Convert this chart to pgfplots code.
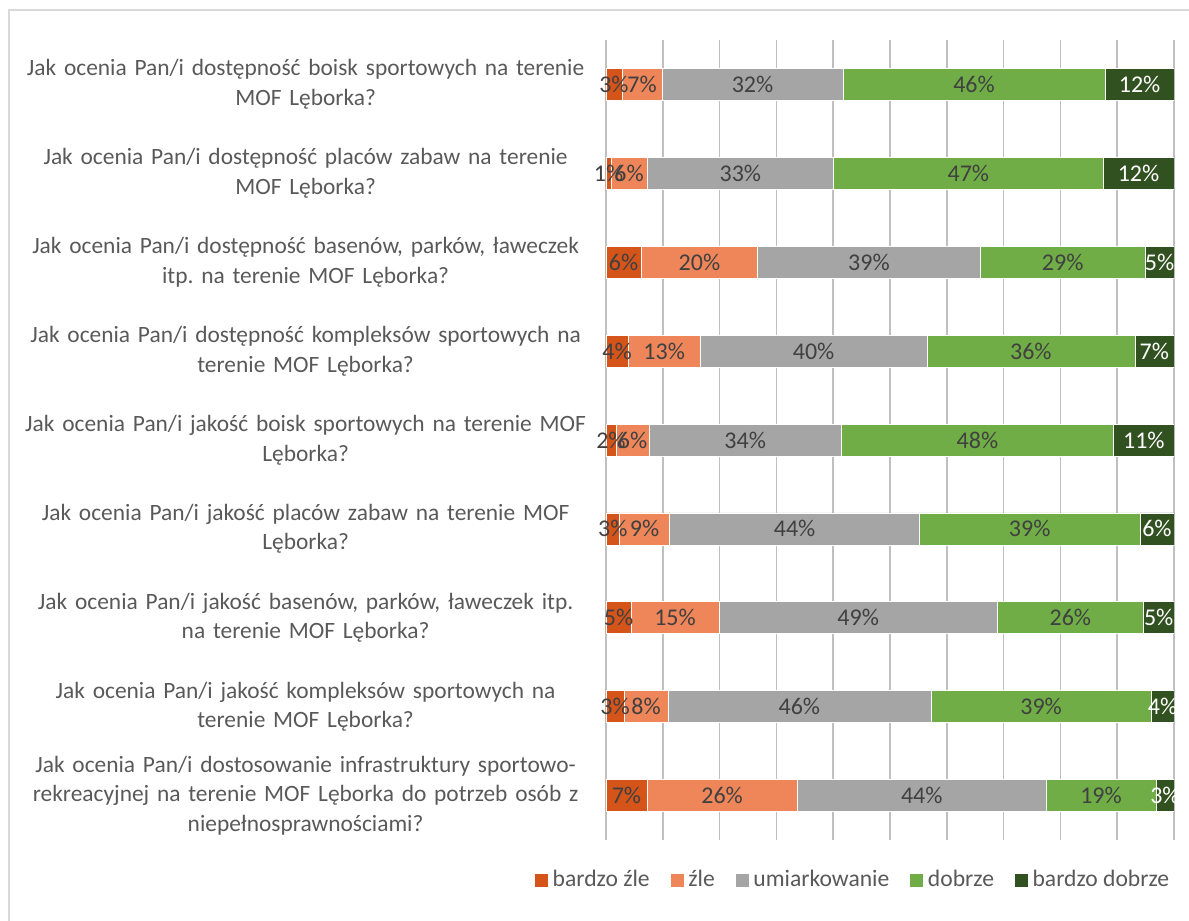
\documentclass[border=0pt]{standalone}
\usepackage{pgfplots}
\pgfplotsset{compat=1.18}
\usepackage{pgfplotstable}
\usepackage{fontspec}
\setmainfont{Carlito}
\frenchspacing
\definecolor{c1}{HTML}{D4541A}
\definecolor{c2}{HTML}{EE8659}
\definecolor{c3}{HTML}{A5A5A5}
\definecolor{c4}{HTML}{70AD47}
\definecolor{c5}{HTML}{325120}
\definecolor{txt}{HTML}{595959}
\definecolor{lbl}{HTML}{404040}
\definecolor{grid}{HTML}{D9D9D9}

\pgfplotstableread{
y a b c d e la lb lc ld le
0 2.8 7.1 31.8 46.2 12.1 3 7 32 46 12
1 0.9 6.3 32.9 47.4 12.5 1 6 33 47 12
2 6.2 20.5 39.2 29.0 5.1 6 20 39 29 5
3 3.9 12.7 39.9 36.6 6.9 4 13 40 36 7
4 1.75 5.85 33.8 48.0 10.6 2 6 34 48 11
5 2.4 8.8 44.0 38.8 6.0 3 9 44 39 6
6 4.4 15.5 49.0 25.7 5.4 5 15 49 26 5
7 3.2 7.7 46.3 38.8 4.0 3 8 46 39 4
8 7.2 26.5 43.8 19.3 3.2 7 26 44 19 3
}\data

\begin{document}
\begin{tikzpicture}
\useasboundingbox (0,0) rectangle (594.5pt,460.5pt);
\clip (0,0) rectangle (594.5pt,460.5pt);
\draw[grid, line width=0.75pt] (4.5pt,0) -- (4.5pt,455.5pt) -- (600pt,455.5pt);
\begin{axis}[
  at={(303pt,40.5pt)}, anchor=south west,
  scale only axis, width=284pt, height=400pt,
  xbar stacked, bar width=16pt,
  xmin=0, xmax=100, ymin=-0.5, ymax=8.5,
  y dir=reverse,
  axis line style={draw=none},
  xtick={0,10,...,100}, xticklabels={},
  xmajorgrids, major grid style={grid, line width=0.75pt},
  major tick length=0pt,
  ytick={0,...,8},
  yticklabels={
    {Jak ocenia Pan/i dostępność boisk sportowych na terenie\\MOF Lęborka?},
    {Jak ocenia Pan/i dostępność placów zabaw na terenie\\MOF Lęborka?},
    {Jak ocenia Pan/i dostępność basenów, parków, ławeczek\\itp. na terenie MOF Lęborka?},
    {Jak ocenia Pan/i dostępność kompleksów sportowych na\\terenie MOF Lęborka?},
    {Jak ocenia Pan/i jakość boisk sportowych na terenie MOF\\Lęborka?},
    {Jak ocenia Pan/i jakość placów zabaw na terenie MOF\\Lęborka?},
    {Jak ocenia Pan/i jakość basenów, parków, ławeczek itp.\\na terenie MOF Lęborka?},
    {Jak ocenia Pan/i jakość kompleksów sportowych na\\terenie MOF Lęborka?},
    {Jak ocenia Pan/i dostosowanie infrastruktury sportowo-\\rekreacyjnej na terenie MOF Lęborka do potrzeb osób z\\niepełnosprawnościami?}
  },
  yticklabel style={text width=284pt, align=center, inner sep=0pt, xshift=-8pt,
    font=\fontsize{11.7}{14.8}\selectfont, text=txt},
  point meta=explicit symbolic,
  nodes near coords={\pgfplotspointmeta\%},
  every node near coord/.append style={font=\fontsize{12}{14}\selectfont, text=lbl},
  legend columns=-1,
  legend style={draw=none, at={(0.436,-0.05)}, anchor=center,
    font=\fontsize{11.8}{14}\selectfont, text=txt,
    /tikz/every even column/.append style={column sep=8pt}},
  legend image code/.code={\fill[#1] (0pt,-3.5pt) rectangle (7pt,3.5pt);},
]
\addplot[fill=c1, draw=white, line width=0.3pt] table[x=a, y=y, meta=la] {\data};
\addplot[fill=c2, draw=white, line width=0.3pt] table[x=b, y=y, meta=lb] {\data};
\addplot[fill=c3, draw=white, line width=0.3pt] table[x=c, y=y, meta=lc] {\data};
\addplot[fill=c4, draw=white, line width=0.3pt] table[x=d, y=y, meta=ld] {\data};
\addplot[fill=c5, draw=white, line width=0.3pt, every node near coord/.append style={text=white}] table[x=e, y=y, meta=le] {\data};
\legend{bardzo źle, źle, umiarkowanie, dobrze, bardzo dobrze}
\end{axis}
\end{tikzpicture}
\end{document}
